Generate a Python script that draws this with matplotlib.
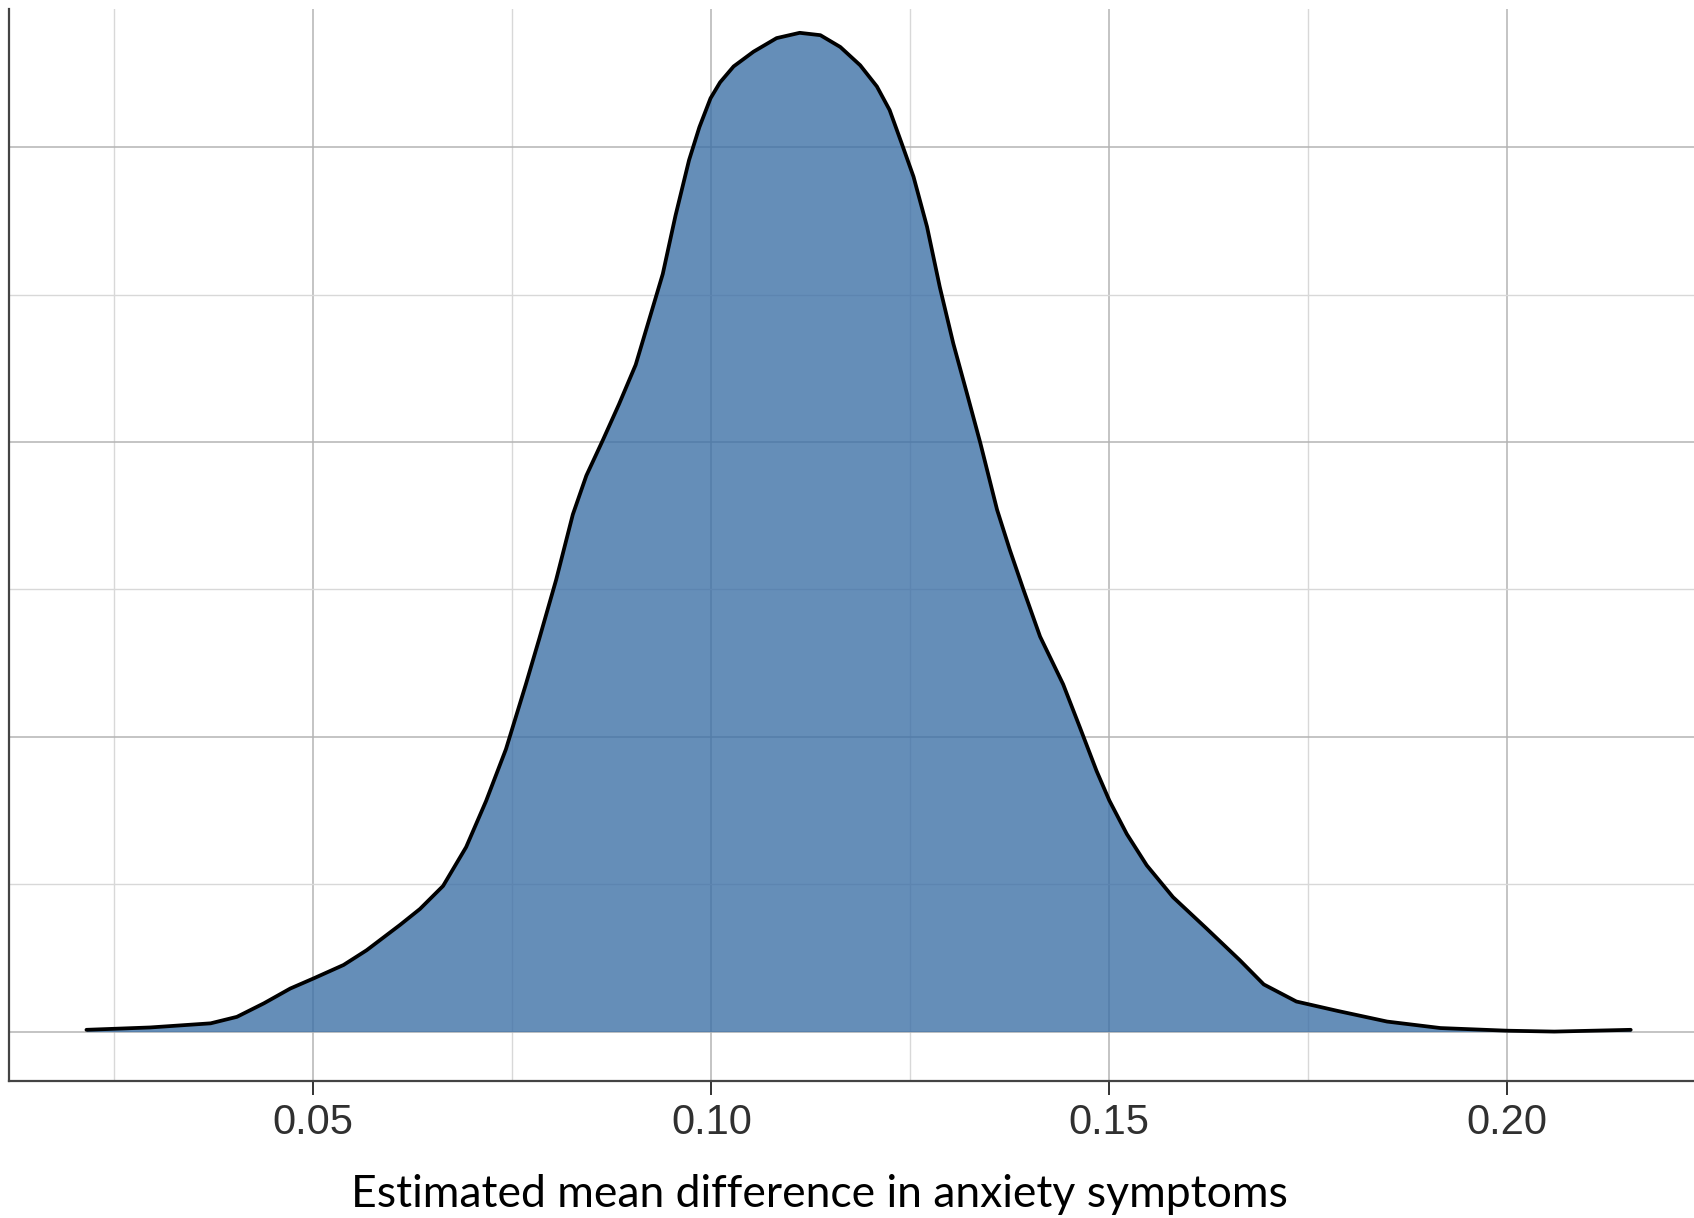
import matplotlib
matplotlib.use("Agg")
import matplotlib.pyplot as plt

# Estimated posterior density of the mean difference
diff_values = [0.0215, 0.0295, 0.0371, 0.0404, 0.0438, 0.0471, 0.0500, 0.0538,
               0.0567, 0.0609, 0.0634, 0.0663, 0.0692, 0.0717, 0.0742, 0.0767,
               0.0784, 0.0805, 0.0826, 0.0843, 0.0864, 0.0884, 0.0905, 0.0922,
               0.0939, 0.0955, 0.0972, 0.0985, 0.0999, 0.1011, 0.1028, 0.1053,
               0.1082, 0.1111, 0.1137, 0.1162, 0.1187, 0.1208, 0.1224, 0.1239,
               0.1254, 0.1271, 0.1287, 0.1304, 0.1321, 0.1338, 0.1359, 0.1375,
               0.1392, 0.1413, 0.1442, 0.1463, 0.1484, 0.1500, 0.1522, 0.1547,
               0.1580, 0.1622, 0.1664, 0.1694, 0.1735, 0.1787, 0.1849, 0.1916,
               0.2000, 0.2059, 0.2155]
density = [0.03, 0.07, 0.14, 0.25, 0.48, 0.73, 0.90, 1.13,
           1.38, 1.81, 2.08, 2.47, 3.13, 3.91, 4.79, 5.89,
           6.67, 7.66, 8.77, 9.43, 10.04, 10.64, 11.31, 12.08,
           12.85, 13.84, 14.78, 15.34, 15.83, 16.10, 16.37, 16.62,
           16.85, 16.94, 16.90, 16.70, 16.39, 16.03, 15.63, 15.07,
           14.50, 13.65, 12.63, 11.67, 10.83, 9.98, 8.85, 8.17,
           7.50, 6.70, 5.89, 5.16, 4.42, 3.92, 3.35, 2.82,
           2.28, 1.75, 1.21, 0.80, 0.51, 0.35, 0.17, 0.06,
           0.015, 0.0, 0.03]

x_major = [0.05, 0.10, 0.15, 0.20]
x_minor = [0.025, 0.075, 0.125, 0.175]
x_labels = ["0.05", "0.10", "0.15", "0.20"]
y_major = [0, 5, 10, 15]
y_minor = [2.5, 7.5, 12.5]
x_title = "Estimated mean difference in anxiety symptoms"

W, H = 1694, 1218
fig = plt.figure(figsize=(W / 100, H / 100), dpi=100)
left_px, right_px, top_px, bottom_px = 9, 1694, 9, 1080.7
ax = fig.add_axes([left_px / W, (H - bottom_px) / H,
                   (right_px - left_px) / W, (bottom_px - top_px) / H])

ax.set_xlim(0.01177, 0.22345)
ax.set_ylim(-0.833, 17.344)

ax.set_xticks(x_major)
ax.set_xticklabels(x_labels, fontfamily="Liberation Sans", fontsize=30, color="#303030")
ax.set_xticks(x_minor, minor=True)
ax.set_yticks(y_major)
ax.set_yticks(y_minor, minor=True)
ax.set_yticklabels([])

ax.set_axisbelow(True)
ax.grid(which="major", color="#b4b4b4", linewidth=1.1)
ax.grid(which="minor", color="#d8d8d8", linewidth=1.0)

ax.fill_between(diff_values, density, 0, color="#3A6EA5", alpha=0.78, linewidth=0)
ax.plot(diff_values, density, color="black", linewidth=2.7,
        solid_capstyle="round", solid_joinstyle="round")

for s in ["top", "right"]:
    ax.spines[s].set_visible(False)
for s in ["left", "bottom"]:
    ax.spines[s].set_color("#444444")
    ax.spines[s].set_linewidth(1.6)

ax.tick_params(axis="x", which="major", length=10, width=1.4, color="#333333", pad=6)
ax.tick_params(axis="x", which="minor", length=0)
ax.tick_params(axis="y", which="both", length=0)

fig.text(819 / W, (H - 1207) / H, x_title, ha="center", va="baseline",
         fontfamily="Lato", fontsize=32, color="black")

fig.savefig("out.png", dpi=100)
